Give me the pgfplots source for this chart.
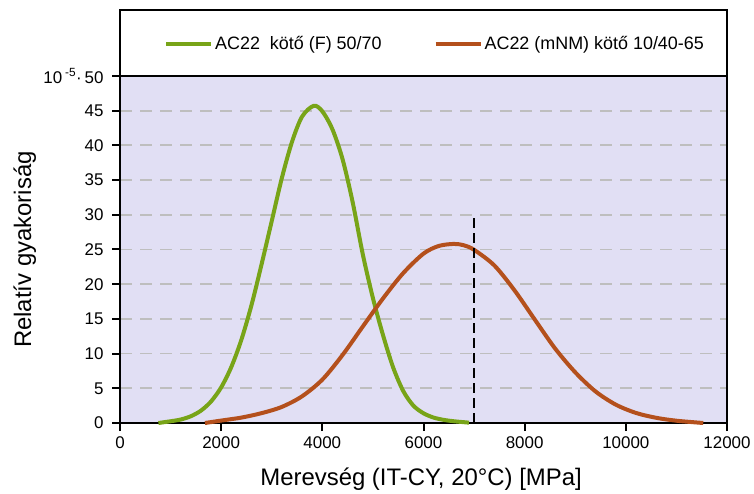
\documentclass[border=0pt]{standalone}
\usepackage{fontspec}
\setmainfont{Liberation Sans}
\usepackage{pgfplots}
\pgfplotsset{compat=1.18}

\definecolor{kgreen}{HTML}{78A418}
\definecolor{kbrown}{HTML}{B4501C}
\definecolor{lav}{HTML}{E1DFF4}
\definecolor{gridgray}{HTML}{BEBEBE}

\begin{document}
\begin{tikzpicture}
\begin{axis}[
  set layers,
  at={(0,0)}, anchor=south west,
  scale only axis,
  width=607bp, height=413bp,
  xmin=0, xmax=12000,
  ymin=0, ymax=59.5,
  clip=false,
  axis line style={line width=2bp},
  scaled x ticks=false, scaled y ticks=false,
  xtick={0,2000,4000,6000,8000,10000,12000},
  xticklabels={0,2000,4000,6000,8000,10000,12000},
  ytick={0,5,10,15,20,25,30,35,40,45,50},
  yticklabels={0,5,10,15,20,25,30,35,40,45,{10\,\textsuperscript{-5}·\,50}},
  tick align=outside,
  major tick length=8bp,
  xtick pos=bottom, ytick pos=left,
  every tick/.style={black, line width=2bp},
  tick label style={font=\fontsize{17}{20}\selectfont},
  yticklabel style={xshift=-5bp},
  xticklabel style={yshift=-2bp},
  ymajorgrids,
  major grid style={gridgray, line width=1.8bp, dash pattern=on 12bp off 8bp},
  xlabel={Merevség (IT-CY, 20°C) [MPa]},
  ylabel={Relatív gyakoriság},
  label style={font=\fontsize{24}{28}\selectfont},
  xlabel style={at={(axis description cs:0.496,-0.135)}, anchor=center},
  ylabel style={at={(axis description cs:-0.157,0.42)}, anchor=center},
  legend style={at={(axis description cs:0.519,0.918)}, anchor=center,
    draw=none, fill=none, font=\fontsize{18}{21}\selectfont,
    /tikz/every even column/.append style={column sep=50bp}},
  legend columns=2,
  legend image code/.code={\draw[#1] (0bp,0bp) -- (45bp,0bp);},
]
\addplot[fill=lav, draw=none, forget plot, on layer=axis background]
  coordinates {(0,0) (12000,0) (12000,50) (0,50)} -- cycle;

\addplot[kgreen, line width=4bp, smooth] coordinates {
  (760,0) (1000,0.25) (1200,0.5) (1400,0.97) (1600,1.78) (1800,3.1)
  (2000,5.13) (2200,8.06) (2400,12.0) (2600,17.0) (2800,22.9)
  (3000,29.1) (3200,35.3) (3400,40.5) (3600,44.15) (3830,45.7)
  (4000,44.9) (4200,42.3) (4400,38.0) (4600,31.8) (4800,24.3)
  (5000,18.0) (5200,12.65) (5400,8.0) (5600,4.6) (5800,2.5)
  (6000,1.4) (6200,0.78) (6400,0.45) (6600,0.25) (6900,0.05)
};
\addlegendentry{AC22\ \ kötő (F) 50/70}

\addplot[kbrown, line width=4bp, smooth] coordinates {
  (1680,0) (2000,0.35) (2400,0.78) (2800,1.42) (3200,2.32) (3600,3.85)
  (4000,6.25) (4400,9.8) (4800,13.9) (5200,17.95) (5600,21.6)
  (6000,24.4) (6300,25.5) (6600,25.8) (6800,25.6) (7000,24.95)
  (7400,22.7) (7800,19.1) (8200,14.9) (8600,10.75) (9000,7.3)
  (9400,4.55) (9800,2.65) (10200,1.45) (10600,0.75) (11000,0.33)
  (11530,0)
};
\addlegendentry{AC22 (mNM) kötő 10/40-65}

\addplot[black, line width=2bp, dash pattern=on 10bp off 5bp, forget plot]
  coordinates {(7000,0) (7000,30)};

\draw[black, line width=2bp] (axis cs:0,50) -- (axis cs:12000,50);
\end{axis}
\pgfresetboundingbox
\path[use as bounding box] (-120bp,-71bp) rectangle (634bp,423bp);
\end{tikzpicture}
\end{document}
